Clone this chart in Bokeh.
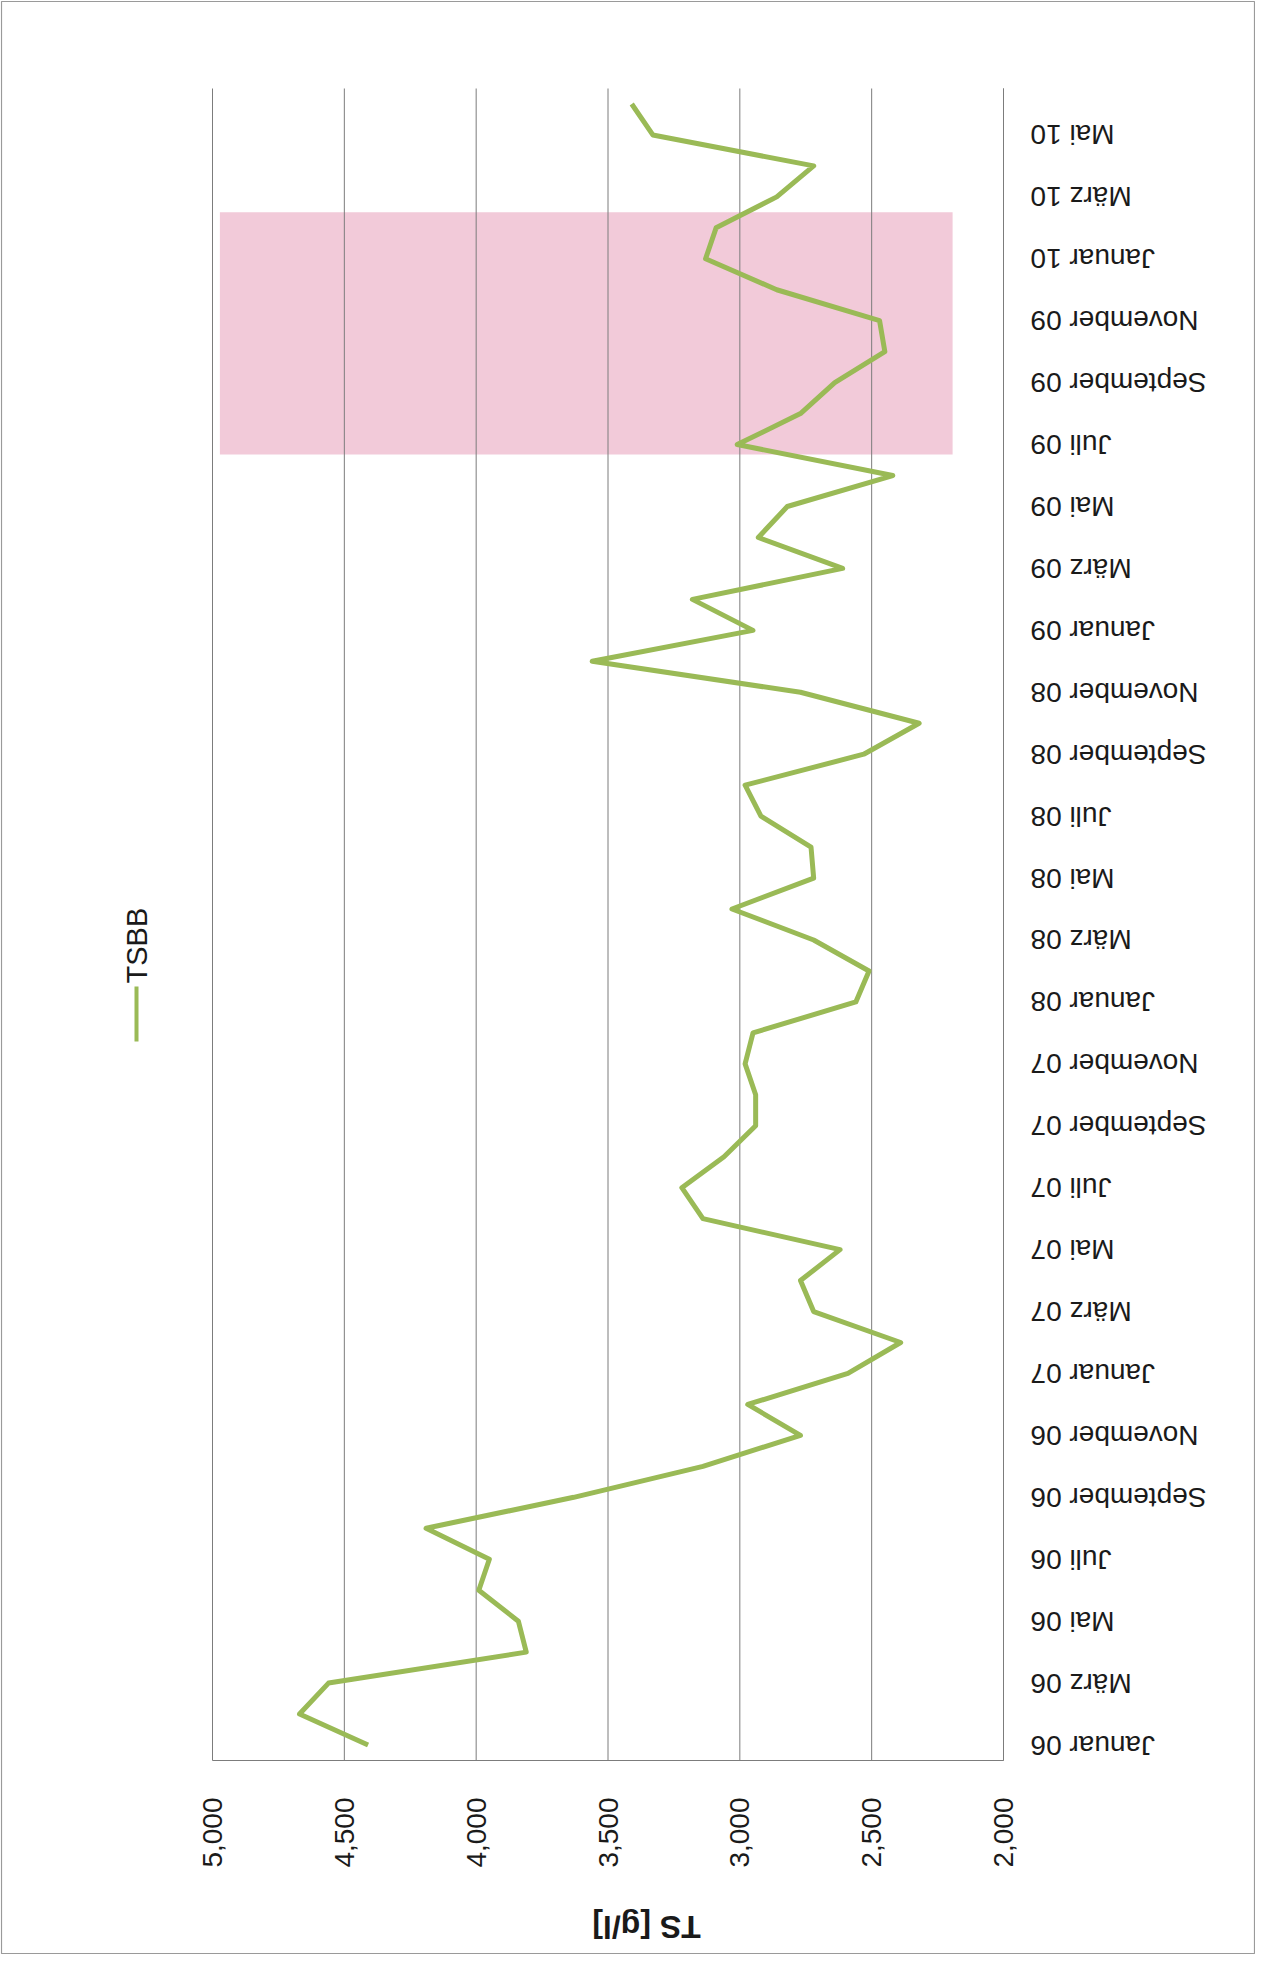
import math
from bokeh.plotting import figure
from bokeh.models import Range1d, FixedTicker, LinearAxis
from bokeh.core.properties import value
from bokeh.embed import file_html
from bokeh.resources import INLINE

# ---------------- data ----------------
month_names = ["Januar", "Februar", "März", "April", "Mai", "Juni", "Juli",
               "August", "September", "Oktober", "November", "Dezember"]
years = ["06", "07", "08", "09", "10"]
categories = [f"{m} {y}" for y in years for m in month_names][:54]   # Januar 06 .. Juni 10

tsbb = [4410, 4670, 4560, 3810, 3840, 3990, 3950, 4190, 3630, 3140,
        2770, 2970, 2590, 2390, 2720, 2770, 2620, 3140, 3220, 3060,
        2940, 2940, 2980, 2950, 2560, 2510, 2720, 3030, 2720, 2730,
        2920, 2980, 2530, 2320, 2770, 3560, 2950, 3180, 2610, 2930,
        2820, 2420, 3010, 2770, 2640, 2450, 2470, 2860, 3130, 3090,
        2860, 2720, 3330, 3410]

value_ticks = [2000, 2500, 3000, 3500, 4000, 4500, 5000]
value_tick_labels = ["2,000", "2,500", "3,000", "3,500", "4,000", "4,500", "5,000"]
series_name = "TSBB"
axis_title = "TS [g/l]"

# highlighted period (pink box)
highlight_from, highlight_to = 41.68, 49.5
highlight_v_left, highlight_v_right = 4972, 2193

# ---------------- geometry (page pixels) ----------------
X_START, X_END = 5000, 2000
Y_BOT, Y_TOP = -0.5, len(categories) - 0.5
FX0, FX1, FY0, FY1 = 220, 1011, 96, 1768      # plot area on the page
W, H = 1255, 1954                               # canvas (page offset 8)

def vx(px):
    return X_START + (px - FX0) / (FX1 - FX0) * (X_END - X_START)

def vy(py):
    return Y_BOT + (FY1 - py) / (FY1 - FY0) * (Y_TOP - Y_BOT)

FONT = "Liberation Sans"
GRID = "#7c7c7c"
GREEN = "#9aba56"
TXT = "#1a1a1a"

p = figure(width=W, height=H,
           x_range=Range1d(vx(8), vx(8 + W)), y_range=Range1d(vy(8 + H), vy(8)),
           x_axis_location=None, y_axis_location=None,
           output_backend="svg", toolbar_location=None,
           min_border=0, min_border_left=0, min_border_right=0,
           min_border_top=0, min_border_bottom=0)
p.outline_line_color = None
p.background_fill_color = "white"
p.border_fill_color = "white"
p.grid.visible = False

# page border
p.quad(left=[vx(9)], right=[vx(8 + W - 1)], top=[vy(9)], bottom=[vy(8 + H - 1)],
       fill_color=None, line_color="#9a9a9a", line_width=1.2)

# highlight box
p.quad(left=[highlight_v_left], right=[highlight_v_right],
       bottom=[highlight_from], top=[highlight_to],
       fill_color="#f2cad9", line_color=None)

# vertical grid lines
p.segment(x0=value_ticks, x1=value_ticks, y0=[Y_BOT] * len(value_ticks),
          y1=[Y_TOP] * len(value_ticks), line_color=GRID, line_width=1)

def bare_axis(ax):
    ax.ticker = FixedTicker(ticks=[])
    ax.axis_line_color = GRID
    ax.major_tick_out = 0
    ax.major_tick_in = 0
    ax.minor_tick_out = 0
    ax.minor_tick_in = 0
    return ax

# value axis line (bottom of plot area) and category axis line (right edge)
p.add_layout(bare_axis(LinearAxis(fixed_location=Y_BOT, bounds=(X_END, X_START))), "below")
p.add_layout(bare_axis(LinearAxis(fixed_location=X_END, bounds=(Y_BOT, Y_TOP))), "right")

# value tick labels, reading bottom-to-top, end of text next to the axis
p.text(x=value_ticks, y=[vy(1805)] * len(value_ticks), text=value_tick_labels,
       angle=math.pi / 2, text_align="right", text_baseline="middle",
       text_font=value(FONT), text_font_size="28px", text_color=TXT)

# data line
idx = list(range(len(categories)))
p.line(x=tsbb, y=idx, line_color=GREEN, line_width=5, line_join="round")

# category labels, upside down, every second month
lab_idx = idx[::2]
lab_txt = [categories[i] for i in lab_idx]
p.text(x=[X_END] * len(lab_idx), y=lab_idx, text=lab_txt, x_offset=27,
       angle=math.pi, text_align="right", text_baseline="middle",
       text_font=value(FONT), text_font_size="28px", text_color=TXT)

# axis title (upside down)
p.text(x=[vx(654)], y=[vy(1934)], text=[axis_title], angle=math.pi,
       text_align="center", text_baseline="middle",
       text_font=value(FONT), text_font_size="32px", text_font_style="bold",
       text_color=TXT)

# legend (rotated)
p.text(x=[vx(144)], y=[vy(991)], text=[series_name], angle=math.pi / 2,
       text_align="left", text_baseline="middle",
       text_font=value(FONT), text_font_size="29px", text_color=TXT)
p.line(x=[vx(144), vx(144)], y=[vy(994), vy(1049)], line_color=GREEN, line_width=4)

open("out.html", "w").write(file_html(p, INLINE))
